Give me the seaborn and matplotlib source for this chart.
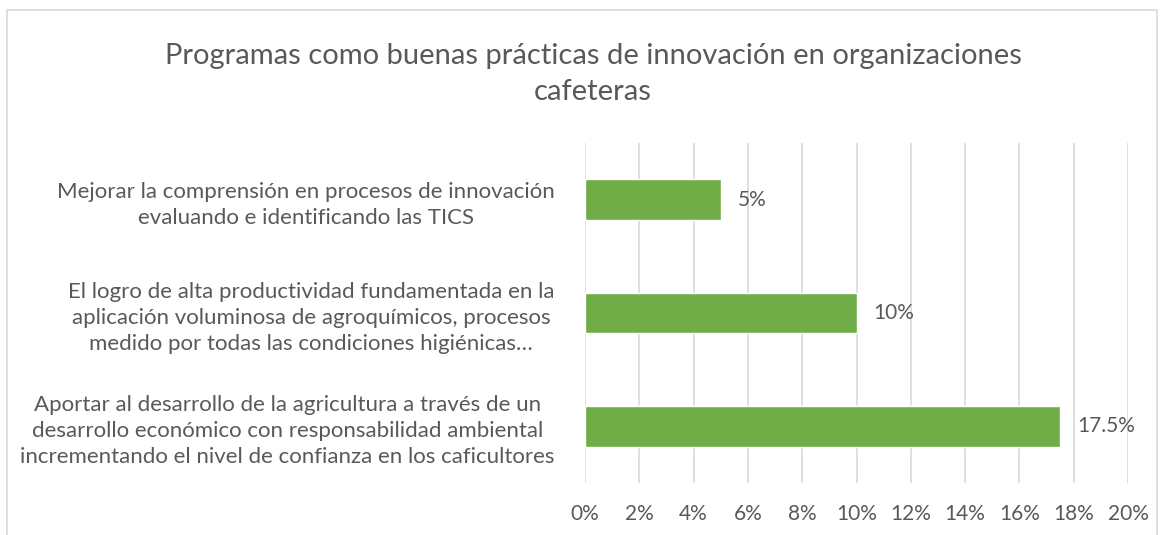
import matplotlib
matplotlib.use("Agg")
import matplotlib.pyplot as plt
from matplotlib.patches import Rectangle
import pandas as pd
import seaborn as sns

categories = [
    "Mejorar la comprensión en procesos de innovación\nevaluando e identificando las TICS",
    "El logro de alta productividad fundamentada en la\naplicación voluminosa de agroquímicos, procesos\nmedido por todas las condiciones higiénicas…",
    "Aportar al desarrollo de la agricultura a través de un\ndesarrollo económico con responsabilidad ambiental\nincrementando el nivel de confianza en los caficultores",
]
values = [5.0, 10.0, 17.5]
value_labels = ["5%", "10%", "17.5%"]
x_ticks = list(range(0, 22, 2))
x_tick_labels = [f"{t}%" for t in x_ticks]
title = "Programas como buenas prácticas de innovación en organizaciones\ncafeteras"

df = pd.DataFrame({"categoria": categories, "valor": values})

sns.set_style("white")
plt.rcParams["font.family"] = ["Lato", "DejaVu Sans"]
text_color = "#595959"
bar_color = "#70AD47"
grid_color = "#D9D9D9"

W, H = 1167, 535
fig = plt.figure(figsize=(W / 100, H / 100), dpi=100)
ax = fig.add_axes([585 / W, 1 - 483 / H, (1128 - 585) / W, (483 - 143) / H])

sns.barplot(data=df, x="valor", y="categoria", orient="h", color=bar_color,
            width=0.36, saturation=1, ax=ax)

ax.set_xlim(0, 20)
ax.set_xticks(x_ticks)
ax.set_xticklabels(x_tick_labels, fontsize=15, color=text_color)
ax.tick_params(axis="x", length=0, pad=15)
ax.tick_params(axis="y", length=0, pad=22)
for lbl in ax.get_yticklabels():
    lbl.set_multialignment("center")
    lbl.set_fontsize(16)
    lbl.set_color(text_color)
    lbl.set_linespacing(1.38)
ax.grid(axis="x", color=grid_color, linewidth=1.2)
ax.set_axisbelow(True)
for s in ax.spines.values():
    s.set_visible(False)
ax.set_xlabel("")
ax.set_ylabel("")

ax.bar_label(ax.containers[0], labels=value_labels, padding=12, fontsize=15, color=text_color)

fig.text(593 / W, 1 - 74 / H, title, ha="center", va="center", fontsize=21,
         color=text_color, linespacing=1.5)

fig.patches.append(Rectangle((7 / W, -0.1), (1157 - 7) / W, 1.1 - 10 / H,
                             transform=fig.transFigure, fill=False,
                             edgecolor=grid_color, linewidth=1.2))

fig.savefig("out.png", dpi=100)
